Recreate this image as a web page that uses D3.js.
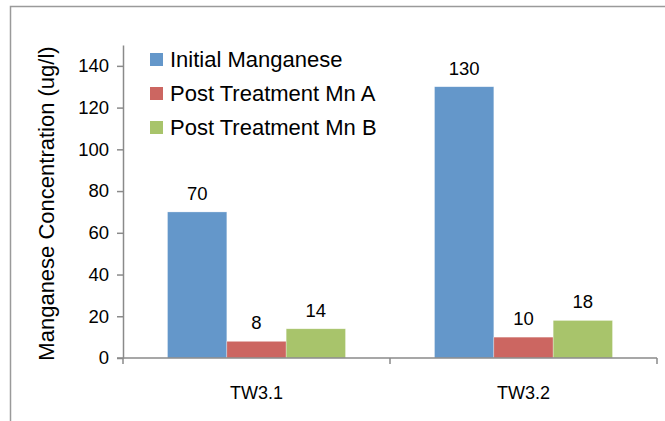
<!DOCTYPE html>
<html>
<head>
<meta charset="utf-8">
<script src="https://cdn.jsdelivr.net/npm/d3@7"></script>
<style>
  html, body { margin: 0; padding: 0; background: #fff; }
  svg { display: block; font-family: "Liberation Sans", Arial, sans-serif; }
</style>
</head>
<body>
<svg id="chart" width="665" height="421"></svg>
<script>
// Manganese concentration per well, before and after treatment
const categories = ["TW3.1", "TW3.2"];
const seriesNames = ["Initial Manganese", "Post Treatment Mn A", "Post Treatment Mn B"];
const initialMn = [70, 130];
const postMnA = [8, 10];
const postMnB = [14, 18];
const yTicks = [0, 20, 40, 60, 80, 100, 120, 140];
const colors = ["#6497CA", "#CC6661", "#A8C46B"];

const seriesValues = [initialMn, postMnA, postMnB];

const svg = d3.select("#chart");
const W = 665, H = 421;
const plot = { left: 123, right: 657, top: 45, bottom: 358 };

// outer chart frame (partly cropped at right/bottom)
svg.append("path")
  .attr("d", `M10.5,${H + 2} L10.5,6.5 L${W + 2},6.5`)
  .attr("fill", "none")
  .attr("stroke", "#9a9a9a")
  .attr("stroke-width", 1.5);

const x0 = d3.scaleBand().domain(categories).range([plot.left, plot.right]).paddingInner(0).paddingOuter(0);
// gap width 150% of a bar: band = 4.5 bars, 0.75 bar of padding each side
const x1 = d3.scaleBand().domain(d3.range(seriesNames.length))
  .range([0, x0.bandwidth()]).paddingInner(0).paddingOuter(0.75);
const y = d3.scaleLinear().domain([0, 150]).range([plot.bottom, plot.top]);

// bars
const groups = svg.append("g").selectAll("g")
  .data(categories)
  .join("g")
  .attr("transform", c => `translate(${x0(c)},0)`);

groups.selectAll("rect")
  .data((c, ci) => seriesValues.map((vals, si) => ({ si, v: vals[ci] })))
  .join("rect")
  .attr("x", d => x1(d.si))
  .attr("y", d => y(d.v))
  .attr("width", x1.bandwidth())
  .attr("height", d => y(0) - y(d.v))
  .attr("fill", d => colors[d.si])
  .attr("stroke", "rgba(255,255,255,0.5)")
  .attr("stroke-width", 0.6);

groups.selectAll("text")
  .data((c, ci) => seriesValues.map((vals, si) => ({ si, v: vals[ci] })))
  .join("text")
  .attr("x", d => x1(d.si) + x1.bandwidth() / 2)
  .attr("y", d => y(d.v) - 12)
  .attr("text-anchor", "middle")
  .attr("font-size", 18.5)
  .attr("fill", "#000")
  .text(d => d.v);

// y axis
const yAxis = d3.axisLeft(y).tickValues(yTicks).tickSize(6).tickPadding(8).tickSizeOuter(0);
const gy = svg.append("g").attr("transform", `translate(${plot.left},0)`).call(yAxis);
gy.select(".domain").attr("stroke", "#8a8a8a").attr("stroke-width", 1.5);
gy.selectAll(".tick line").attr("stroke", "#8a8a8a").attr("stroke-width", 1.5);
gy.selectAll(".tick text").attr("font-size", 18.5).attr("fill", "#000")
  .attr("font-family", "'Liberation Sans', Arial, sans-serif");

// x axis with boundary ticks between categories
const xAxisG = svg.append("g").attr("transform", `translate(0,${plot.bottom})`);
xAxisG.append("line")
  .attr("x1", plot.left - 6).attr("x2", plot.right)
  .attr("stroke", "#8a8a8a").attr("stroke-width", 1.5);
const boundaries = categories.map(c => x0(c)).concat([x0(categories[categories.length - 1]) + x0.bandwidth()]);
xAxisG.selectAll("line.tk")
  .data(boundaries)
  .join("line")
  .attr("class", "tk")
  .attr("x1", d => d).attr("x2", d => d)
  .attr("y1", 0).attr("y2", 6)
  .attr("stroke", "#8a8a8a").attr("stroke-width", 1.5);
xAxisG.selectAll("text")
  .data(categories)
  .join("text")
  .attr("x", c => x0(c) + x0.bandwidth() / 2)
  .attr("y", 41)
  .attr("text-anchor", "middle")
  .attr("font-size", 18)
  .attr("fill", "#000")
  .text(c => c);

// axis title
svg.append("text")
  .attr("transform", `translate(54,${(plot.top + plot.bottom) / 2 + 2}) rotate(-90)`)
  .attr("text-anchor", "middle")
  .attr("font-size", 22)
  .attr("fill", "#000")
  .text("Manganese Concentration (ug/l)");

// legend
const legend = svg.append("g").attr("transform", "translate(150,53)");
const rows = legend.selectAll("g")
  .data(seriesNames)
  .join("g")
  .attr("transform", (d, i) => `translate(0,${i * 34})`);
rows.append("rect")
  .attr("width", 13).attr("height", 13)
  .attr("fill", (d, i) => colors[i]);
rows.append("text")
  .attr("x", 20).attr("y", 14)
  .attr("font-size", 22)
  .attr("fill", "#000")
  .text(d => d);
</script>
</body>
</html>
